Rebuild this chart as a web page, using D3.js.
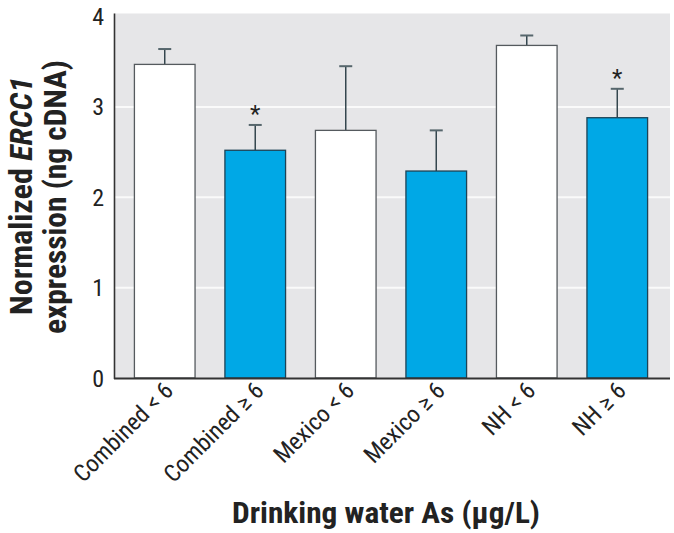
<!DOCTYPE html>
<html><head><meta charset="utf-8">
<script src="https://cdn.jsdelivr.net/npm/d3@7"></script>
<style>
body{margin:0;background:#fff;}
svg text{font-family:"Liberation Sans Narrow","Arial Narrow","Roboto Condensed",sans-serif;}
</style></head>
<body><svg id="c" width="674" height="533"></svg>
<script>
const categories = ["Combined < 6","Combined \u2265 6","Mexico < 6","Mexico \u2265 6","NH < 6","NH \u2265 6"];
const means = [3.47, 2.52, 2.74, 2.29, 3.68, 2.88];
const sems = [0.17, 0.28, 0.71, 0.45, 0.11, 0.32];
const highExposure = [false, true, false, true, false, true];
const significant = [false, true, false, false, false, true];
const yTicks = [0, 1, 2, 3, 4];

const svg = d3.select("#c");
const x = d3.scaleBand().domain(categories).range([114.5, 667.5]).paddingInner(0.33).paddingOuter(0.22);
const y = d3.scaleLinear().domain([0, 4]).range([378, 16.5]);

// background
svg.append("rect").attr("x", 114.5).attr("y", 13.5).attr("width", 670 - 114.5).attr("height", 378 - 13.5).attr("fill", "#e6e6e8");
// gridlines
svg.selectAll(".grid").data(yTicks.filter(d => d > 0 && d < 4)).enter().append("line")
  .attr("x1", 114.5).attr("x2", 670).attr("y1", d => y(d)).attr("y2", d => y(d))
  .attr("stroke", "#fafafa").attr("stroke-width", 2);

const data = categories.map((c, i) => ({c, m: means[i], e: sems[i], hi: highExposure[i], sig: significant[i]}));

// error bars
const eb = svg.selectAll(".eb").data(data).enter().append("g");
eb.append("line").attr("x1", d => x(d.c) + x.bandwidth()/2).attr("x2", d => x(d.c) + x.bandwidth()/2)
  .attr("y1", d => y(d.m)).attr("y2", d => y(d.m + d.e)).attr("stroke", "#34464e").attr("stroke-width", 1.5);
eb.append("line").attr("x1", d => x(d.c) + x.bandwidth()/2 - 6.5).attr("x2", d => x(d.c) + x.bandwidth()/2 + 6.5)
  .attr("y1", d => y(d.m + d.e)).attr("y2", d => y(d.m + d.e)).attr("stroke", "#56666c").attr("stroke-width", 2);

// bars
svg.selectAll(".bar").data(data).enter().append("rect")
  .attr("x", d => x(d.c)).attr("width", x.bandwidth())
  .attr("y", d => y(d.m)).attr("height", d => y(0) - y(d.m))
  .attr("fill", d => d.hi ? "#00a8e6" : "#ffffff")
  .attr("stroke", d => d.hi ? "#1d4356" : "#555a5e").attr("stroke-width", 1.3);

// asterisks
svg.selectAll(".sig").data(data.filter(d => d.sig)).enter().append("text")
  .attr("x", d => x(d.c) + x.bandwidth()/2).attr("y", d => y(d.m + d.e) - 3)
  .attr("text-anchor", "middle").attr("font-size", 24).attr("fill", "#222").text("*");

// axes lines
svg.append("line").attr("x1", 114.5).attr("x2", 114.5).attr("y1", 13.5).attr("y2", 379).attr("stroke", "#333").attr("stroke-width", 1.6);
svg.append("line").attr("x1", 114).attr("x2", 670).attr("y1", 378.5).attr("y2", 378.5).attr("stroke", "#333").attr("stroke-width", 2);

// y tick labels
svg.selectAll(".yt").data(yTicks).enter().append("text")
  .attr("x", 104).attr("y", d => y(d) + 8.5).attr("text-anchor", "end")
  .attr("font-size", 24).attr("fill", "#222").text(d => d);

// x tick labels
svg.selectAll(".xt").data(categories).enter().append("text")
  .attr("transform", d => `translate(${x(d) + x.bandwidth()/2 + 10},${392}) rotate(-45)`)
  .attr("text-anchor", "end").attr("font-size", 24).attr("fill", "#222").text(d => d);

// y title
const yt = svg.append("text").attr("transform", "translate(32,196) rotate(-90)")
  .attr("text-anchor", "middle").attr("font-size", 31).attr("font-weight", "bold").attr("fill", "#222")
  .attr("textLength", 238).attr("lengthAdjust", "spacingAndGlyphs");
yt.append("tspan").text("Normalized ");
yt.append("tspan").attr("font-style", "italic").text("ERCC1");
svg.append("text").attr("transform", "translate(66,197) rotate(-90)")
  .attr("text-anchor", "middle").attr("font-size", 31).attr("font-weight", "bold").attr("fill", "#222")
  .attr("textLength", 274).attr("lengthAdjust", "spacingAndGlyphs")
  .text("expression (ng cDNA)");

// x title
svg.append("text").attr("x", 386).attr("y", 523).attr("text-anchor", "middle")
  .attr("font-size", 30).attr("font-weight", "bold").attr("fill", "#222")
  .attr("textLength", 308).attr("lengthAdjust", "spacingAndGlyphs")
  .text("Drinking water As (\u03bcg/L)");
</script></body></html>
